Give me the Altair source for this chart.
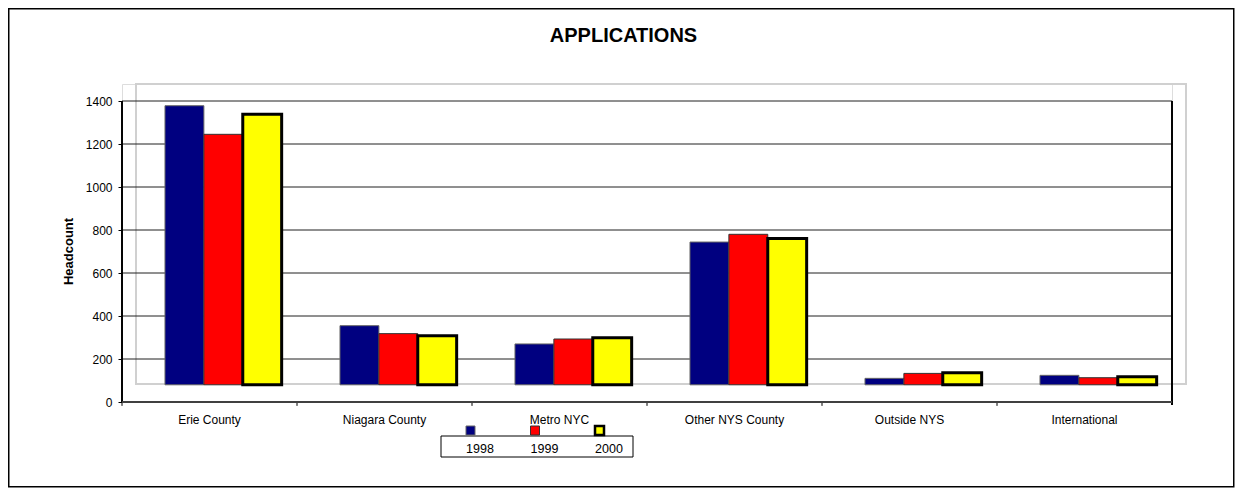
import altair as alt
import pandas as pd

categories = ["Erie County", "Niagara County", "Metro NYC", "Other NYS County", "Outside NYS", "International"]
years = ["1998", "1999", "2000"]
v1998 = [1378, 355, 270, 744, 110, 124]
v1999 = [1245, 318, 293, 780, 133, 113]
v2000 = [1338, 308, 299, 761, 136, 118]
tick_values = [0, 200, 400, 600, 800, 1000, 1200, 1400]
grid_values = [200, 400, 600, 800, 1000, 1200, 1400]
floor_value = 80
y_max = 1479.07

series = {"1998": v1998, "1999": v1999, "2000": v2000}
rows = []
for yr in years:
    for c, v in zip(categories, series[yr]):
        rows.append({"cat": c, "year": yr, "value": v})
bars_df = pd.DataFrame(rows)
cat_df = pd.DataFrame({"cat": categories})
year_df = pd.DataFrame({"year": years})
grid_df = pd.DataFrame({"g": grid_values})

fills = {"1998": "#000080", "1999": "#FF0000", "2000": "#FFFF00"}
strokes = {"1998": "#666666", "1999": "#333333", "2000": "#000000"}
swidths = {"1998": 1, "1999": 1, "2000": 3}

FONT = "Arial, Liberation Sans, sans-serif"
W, H = 1050, 318

yscale = alt.Scale(domain=[0, y_max], nice=False, zero=False)
yaxis = alt.Axis(values=tick_values, format="d", domain=False, grid=False, ticks=True, tickSize=4,
                 tickColor="black", labelFontSize=12, labelFont=FONT, labelColor="black",
                 labelPadding=6, title=None)
catscale = alt.Scale(domain=categories, paddingInner=0, paddingOuter=0)

# back wall
wall = alt.Chart(cat_df).mark_rect(fill=None, stroke="#d0d0d0", strokeWidth=1.5).encode(
    x=alt.value(14), x2=alt.value(1064), y=alt.value(0), y2=alt.value(300))

grid = alt.Chart(grid_df).mark_rule(color="#202020", strokeWidth=1).encode(
    y=alt.Y("g:Q", scale=yscale, axis=yaxis), x=alt.value(0), x2=alt.value(W))

left_line = alt.Chart(cat_df).mark_rule(color="black", strokeWidth=1).encode(
    x=alt.value(0), y=alt.datum(0), y2=alt.datum(1400))
right_line = alt.Chart(cat_df).mark_rule(color="black", strokeWidth=1).encode(
    x=alt.value(W), y=alt.datum(1400), y2=alt.datum(-14))
base_line = alt.Chart(cat_df).mark_rule(color="#404040", strokeWidth=2).encode(
    x=alt.value(0), x2=alt.value(W), y=alt.datum(0))
ticks = alt.Chart(cat_df).mark_rule(color="black", strokeWidth=1).encode(
    x=alt.X("cat:N", bandPosition=0, scale=catscale, axis=None),
    y=alt.datum(0), y2=alt.datum(-18))

bar_layers = []
for yr in years:
    bar_layers.append(
        alt.Chart(bars_df).transform_filter(alt.datum.year == yr).mark_bar(
            color=fills[yr], stroke=strokes[yr], strokeWidth=swidths[yr]
        ).encode(
            x=alt.X("cat:N", scale=catscale, axis=None, sort=categories),
            xOffset=alt.XOffset("year:N", scale=alt.Scale(domain=years, paddingInner=0,
                                                          paddingOuter=0.75, align=0.737)),
            y=alt.Y("value:Q", scale=yscale, axis=yaxis),
            y2=alt.datum(floor_value),
        )
    )

cat_labels = alt.Chart(cat_df).mark_text(fontSize=12, font=FONT, color="black",
                                         baseline="alphabetic", align="center").encode(
    x=alt.X("cat:N", scale=catscale, axis=None), y=alt.value(340.3), text="cat:N")

title = alt.Chart(cat_df.head(1)).mark_text(fontSize=20, font=FONT, fontWeight="bold",
                                            color="black", baseline="alphabetic", align="center").encode(
    x=alt.value(501.5), y=alt.value(-41.7), text=alt.value("APPLICATIONS"))

ytitle = alt.Chart(cat_df.head(1)).mark_text(fontSize=13, font=FONT, fontWeight="bold",
                                             color="black", baseline="middle", align="center", angle=270).encode(
    x=alt.value(-53), y=alt.value(167.5), text=alt.value("Headcount"))

legend_box = alt.Chart(cat_df.head(1)).mark_rect(fill=None, stroke="black", strokeWidth=1).encode(
    x=alt.value(319), x2=alt.value(511), y=alt.value(352), y2=alt.value(373))

legscale = alt.Scale(type="point", domain=years, range=[348.5, 477.5], padding=0)
leg_layers = []
for yr in years:
    leg_layers.append(
        alt.Chart(year_df).transform_filter(alt.datum.year == yr).mark_square(
            size=81, filled=True, color=fills[yr], stroke=strokes[yr],
            strokeWidth=(2.5 if yr == "2000" else 1), opacity=1
        ).encode(x=alt.X("year:N", scale=legscale, axis=None), y=alt.value(346.5))
    )
leg_text = alt.Chart(year_df).mark_text(fontSize=12.5, font=FONT, color="black",
                                        baseline="alphabetic", align="center", dx=9.5).encode(
    x=alt.X("year:N", scale=legscale, axis=None), y=alt.value(368.7), text="year:N")

border = alt.Chart(cat_df.head(1)).mark_rect(fill=None, stroke="black", strokeWidth=1.5).encode(
    x=alt.value(-113.25), x2=alt.value(1111.75), y=alt.value(-75.25), y2=alt.value(402.75))

chart = alt.layer(
    border, wall, grid, left_line, right_line, ticks, *bar_layers, base_line,
    cat_labels, title, ytitle, legend_box, *leg_layers, leg_text
).properties(
    width=W, height=H,
    padding={"left": 114, "top": 76, "right": 63, "bottom": 86},
    autosize=alt.AutoSizeParams(type="none"),
).resolve_scale(x="independent").configure_view(stroke=None).configure(background="white")

chart.save("out.html", embed_options={"renderer": "svg", "actions": False})
